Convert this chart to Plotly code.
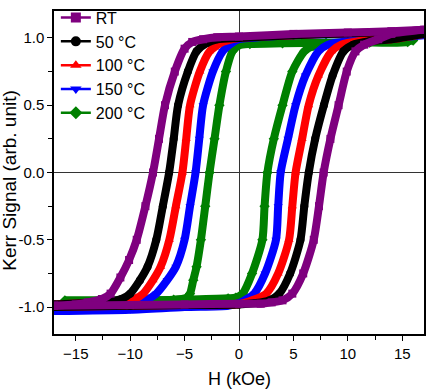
import plotly.graph_objects as go

labels = ["RT", "50 °C", "100 °C", "150 °C", "200 °C"]
colors = ["#7f007f", "#000000", "#ff0000", "#0000ff", "#008000"]
symbols = ["square", "circle", "triangle-up", "triangle-down", "diamond"]

# Descending branches (H from + to -)
rt_dn_h = [17, 14, 10, 5, 0, -2, -3.3, -4.3, -5.0, -5.9, -6.8, -7.35, -7.9, -8.6, -9.4, -10.1, -10.9, -11.8, -12.6, -13.9, -15, -17]
rt_dn_m = [1.06, 1.05, 1.04, 1.03, 1.01, 1.005, 0.99, 0.97, 0.92, 0.75, 0.5, 0.25, 0.0, -0.25, -0.5, -0.65, -0.78, -0.9, -0.94, -0.965, -0.98, -0.99]
rt_up_h = [-17, -10, -5, 0, 2, 3.0, 4.0, 4.9, 5.9, 6.87, 7.35, 7.78, 8.4, 9.15, 9.9, 10.7, 11.5, 12.8, 14, 17]
rt_up_m = [-0.99, -0.985, -0.98, -0.975, -0.975, -0.965, -0.95, -0.9, -0.75, -0.5, -0.25, 0.0, 0.25, 0.5, 0.75, 0.9, 0.95, 0.99, 1.03, 1.06]

t50_dn_h = [17, 10, 5, 0, -2, -3.0, -3.9, -4.7, -5.6, -6.0, -6.42, -7.0, -7.6, -8.4, -9.1, -10.0, -10.8, -12, -14, -17]
t50_dn_m = [1.05, 1.035, 1.02, 1.0, 0.99, 0.96, 0.9, 0.75, 0.5, 0.25, 0.0, -0.25, -0.5, -0.7, -0.8, -0.9, -0.94, -0.96, -0.97, -0.98]
t50_up_h = [-17, -10, -5, 0, 1.5, 2.8, 3.7, 4.7, 5.65, 6.0, 6.41, 7.0, 7.8, 8.6, 9.6, 10.5, 12, 14, 17]
t50_up_m = [-1.0, -0.99, -0.985, -0.98, -0.97, -0.95, -0.9, -0.75, -0.5, -0.25, 0.0, 0.25, 0.5, 0.72, 0.9, 0.95, 0.975, 0.99, 1.03]

t100_dn_h = [17, 10, 5, 0, -1.5, -2.7, -3.6, -4.5, -4.85, -5.2, -5.8, -6.4, -7.2, -7.9, -8.8, -9.6, -11, -14, -17]
t100_dn_m = [1.045, 1.035, 1.02, 1.0, 0.97, 0.9, 0.75, 0.5, 0.25, 0.0, -0.25, -0.5, -0.7, -0.8, -0.9, -0.94, -0.96, -0.97, -0.98]
t100_up_h = [-17, -10, -5, 0, 1.2, 2.5, 3.6, 4.6, 4.9, 5.2, 5.8, 6.4, 7.3, 8.5, 9.4, 11, 14, 17]
t100_up_m = [-1.0, -0.99, -0.985, -0.98, -0.95, -0.9, -0.75, -0.5, -0.25, 0.0, 0.25, 0.5, 0.72, 0.9, 0.95, 0.975, 0.99, 1.03]

t150_dn_h = [17, 10, 5, 1, 0, -0.5, -1.5, -2.4, -3.3, -3.65, -3.99, -4.5, -5.0, -5.8, -6.6, -7.6, -8.4, -10, -13, -17]
t150_dn_m = [1.04, 1.03, 1.02, 1.0, 0.99, 0.97, 0.9, 0.75, 0.5, 0.25, 0.0, -0.25, -0.5, -0.7, -0.8, -0.9, -0.94, -0.96, -0.97, -0.98]
t150_up_h = [-17, -10, -5, -1, 0, 0.5, 1.4, 2.4, 3.4, 3.6, 3.83, 4.5, 5.2, 6.1, 7.3, 8.2, 10, 13, 17]
t150_up_m = [-1.03, -1.02, -1.0, -0.99, -0.97, -0.95, -0.9, -0.75, -0.5, -0.25, 0.0, 0.25, 0.5, 0.72, 0.9, 0.95, 0.975, 0.99, 1.02]

t200_dn_h = [16, 12, 8, 4, 1, 0, -0.6, -1.2, -1.8, -2.25, -2.71, -3.1, -3.5, -3.9, -4.2, -4.5, -4.8, -6, -10, -16]
t200_dn_m = [0.98, 0.97, 0.965, 0.96, 0.955, 0.945, 0.9, 0.75, 0.5, 0.25, 0.0, -0.25, -0.5, -0.7, -0.8, -0.9, -0.93, -0.945, -0.95, -0.95]
t200_up_h = [-16, -10, -5, -1, -0.3, 0.33, 1.2, 2.15, 2.35, 2.61, 3.2, 4.0, 4.9, 6.0, 6.8, 8, 12, 15.5, 16.1]
t200_up_m = [-0.97, -0.955, -0.945, -0.935, -0.93, -0.9, -0.75, -0.5, -0.25, 0.0, 0.25, 0.5, 0.75, 0.9, 0.94, 0.955, 0.965, 0.97, 1.0]

branches = [
    (rt_dn_h, rt_dn_m, rt_up_h, rt_up_m),
    (t50_dn_h, t50_dn_m, t50_up_h, t50_up_m),
    (t100_dn_h, t100_dn_m, t100_up_h, t100_up_m),
    (t150_dn_h, t150_dn_m, t150_up_h, t150_up_m),
    (t200_dn_h, t200_dn_m, t200_up_h, t200_up_m),
]

FONT = "Liberation Sans, Arial, sans-serif"

fig = go.Figure()

# data traces, drawn from 200 °C up to RT so RT sits on top
for i in reversed(range(5)):
    dh, dm, uh, um = branches[i]
    for hx, my in ((dh, dm), (uh, um)):
        fig.add_trace(go.Scatter(
            x=hx, y=my, mode="lines+markers",
            line=dict(color=colors[i], width=8, shape="spline", smoothing=0.7),
            marker=dict(symbol=symbols[i], size=8, color=colors[i]),
            showlegend=False, hoverinfo="skip"))

# legend entries
for i in range(5):
    fig.add_trace(go.Scatter(
        x=[None], y=[None], mode="lines+markers", name=labels[i],
        line=dict(color=colors[i], width=2.5),
        marker=dict(symbol=symbols[i], size=10, color=colors[i])))

axis_font = dict(family=FONT, size=15, color="black")

fig.update_layout(
    width=426, height=391,
    margin=dict(l=54, r=2, t=1, b=57),
    plot_bgcolor="white", paper_bgcolor="white",
    font=dict(family=FONT, color="black"),
    legend=dict(x=0.005, y=1.032, xanchor="left", yanchor="top",
                bgcolor="rgba(0,0,0,0)", font=dict(size=16),
                itemwidth=30, tracegroupgap=0),
    annotations=[
        dict(text="Kerr Signal (arb. unit)", xref="paper", yref="paper",
             x=(10 - 54) / 370, y=(334 - 176) / 333, xanchor="center", yanchor="middle",
             textangle=-90, showarrow=False, font=dict(family=FONT, size=19, color="black")),
        dict(text="H (kOe)", xref="paper", yref="paper",
             x=0.5, y=-(380 - 334) / 333, xanchor="center", yanchor="middle",
             showarrow=False, font=dict(family=FONT, size=18, color="black")),
    ],
)

fig.update_xaxes(
    range=[-17, 17], tickvals=[-15, -10, -5, 0, 5, 10, 15],
    ticks="outside", ticklen=5, tickwidth=1.2, tickcolor="black",
    minor=dict(dtick=2.5, tick0=0, ticks="outside", ticklen=4, tickwidth=1.2, tickcolor="black"),
    showline=True, linecolor="black", linewidth=1.5, mirror=True,
    showgrid=False, zeroline=True, zerolinecolor="#333333", zerolinewidth=1,
    tickfont=axis_font, automargin=False,
)
fig.update_yaxes(
    range=[-1.2, 1.2], tickvals=[-1.0, -0.5, 0.0, 0.5, 1.0], ticktext=["-1.0", "-0.5", "0.0", "0.5", "1.0"],
    ticks="outside", ticklen=5, tickwidth=1.2, tickcolor="black",
    minor=dict(dtick=0.25, tick0=0, ticks="outside", ticklen=4, tickwidth=1.2, tickcolor="black"),
    showline=True, linecolor="black", linewidth=1.5, mirror=True,
    showgrid=False, zeroline=True, zerolinecolor="#333333", zerolinewidth=1,
    tickfont=axis_font, automargin=False,
)

fig.write_html("out.html", config={"displayModeBar": False},
               post_script="document.body.style.margin='0';")
